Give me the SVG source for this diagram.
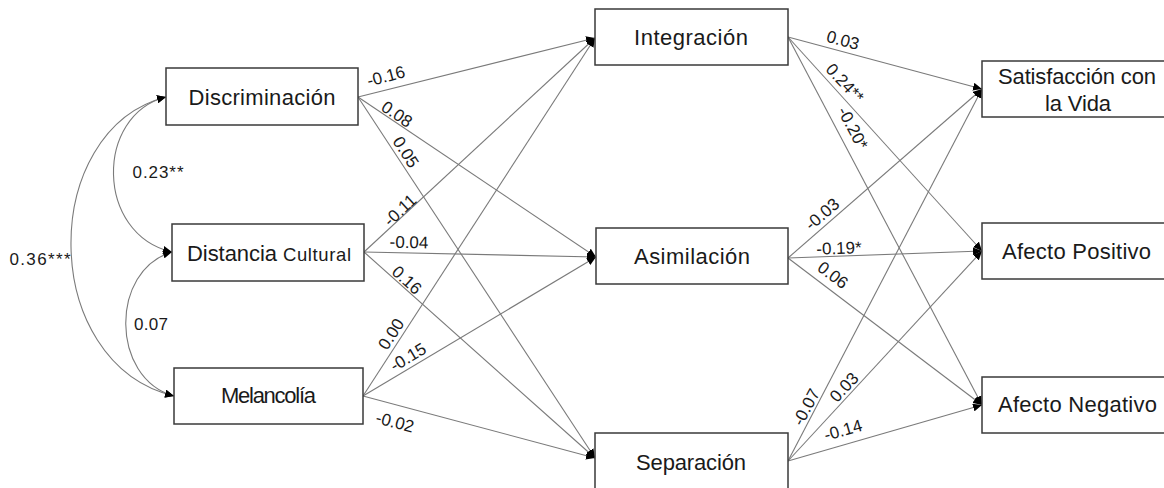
<svg xmlns="http://www.w3.org/2000/svg" width="1164" height="488" viewBox="0 0 1164 488">
<style>
.box{fill:#fff;stroke:#3a3a3a;stroke-width:1.5}
.t{font-family:"Liberation Sans",Arial,sans-serif;font-size:22px;fill:#1a1a1a;text-anchor:middle}
.c{fill:none;stroke:#7a7a7a;stroke-width:1.1}
.l{font-family:"Liberation Sans",Arial,sans-serif;font-size:17px;fill:#1a1a1a;text-anchor:middle}
</style>
<defs>
<marker id="ah" markerUnits="userSpaceOnUse" markerWidth="10" markerHeight="8" refX="9" refY="4" orient="auto-start-reverse">
<path d="M0,0 L9,4 L0,8 z" fill="#000"/>
</marker>
</defs>
<rect width="1164" height="488" fill="#fff"/>
<g id="connectors">
<path class="c" d="M166,97 C95,115 95,234 172,252" marker-start="url(#ah)" marker-end="url(#ah)"/>
<path class="c" d="M172,252 C110,270 110,378 174,396" marker-start="url(#ah)" marker-end="url(#ah)"/>
<path class="c" d="M166,97 C38,130 38,363 174,396" marker-start="url(#ah)" marker-end="url(#ah)"/>
<line class="c" x1="358" y1="97" x2="595" y2="38" marker-end="url(#ah)"/>
<line class="c" x1="358" y1="97" x2="596" y2="257" marker-end="url(#ah)"/>
<line class="c" x1="358" y1="97" x2="595" y2="458" marker-end="url(#ah)"/>
<line class="c" x1="364" y1="252" x2="595" y2="38" marker-end="url(#ah)"/>
<line class="c" x1="364" y1="252" x2="596" y2="257" marker-end="url(#ah)"/>
<line class="c" x1="364" y1="252" x2="595" y2="458" marker-end="url(#ah)"/>
<line class="c" x1="363" y1="396" x2="595" y2="38" marker-end="url(#ah)"/>
<line class="c" x1="363" y1="396" x2="596" y2="257" marker-end="url(#ah)"/>
<line class="c" x1="363" y1="396" x2="595" y2="458" marker-end="url(#ah)"/>
<line class="c" x1="788" y1="37" x2="982" y2="89" marker-end="url(#ah)"/>
<line class="c" x1="788" y1="37" x2="982" y2="251" marker-end="url(#ah)"/>
<line class="c" x1="788" y1="37" x2="982" y2="405" marker-end="url(#ah)"/>
<line class="c" x1="788" y1="258" x2="982" y2="89" marker-end="url(#ah)"/>
<line class="c" x1="788" y1="258" x2="982" y2="251" marker-end="url(#ah)"/>
<line class="c" x1="788" y1="258" x2="982" y2="405" marker-end="url(#ah)"/>
<line class="c" x1="788" y1="461" x2="982" y2="89" marker-end="url(#ah)"/>
<line class="c" x1="788" y1="461" x2="982" y2="251" marker-end="url(#ah)"/>
<line class="c" x1="788" y1="461" x2="982" y2="405" marker-end="url(#ah)"/>
</g>
<g id="labels">
<text class="l" x="158" y="178" textLength="51">0.23**</text>
<text class="l" x="151" y="330" textLength="34">0.07</text>
<text class="l" x="40" y="265" textLength="61">0.36***</text>
<text class="l" transform="translate(386,76) rotate(-15)" dy="0.35em">-0.16</text>
<text class="l" transform="translate(397,114) rotate(34)" dy="0.35em">0.08</text>
<text class="l" transform="translate(406,152) rotate(57)" dy="0.35em">0.05</text>
<text class="l" transform="translate(400,210) rotate(-43)" dy="0.35em">-0.11</text>
<text class="l" transform="translate(409,242) rotate(1)" dy="0.35em">-0.04</text>
<text class="l" transform="translate(407,280) rotate(42)" dy="0.35em">0.16</text>
<text class="l" transform="translate(391,334) rotate(-57)" dy="0.35em">0.00</text>
<text class="l" transform="translate(408,357) rotate(-31)" dy="0.35em">-0.15</text>
<text class="l" transform="translate(395,422) rotate(15)" dy="0.35em">-0.02</text>
<text class="l" transform="translate(843,40) rotate(15)" dy="0.35em">0.03</text>
<text class="l" transform="translate(845,83) rotate(47)" dy="0.35em">0.24**</text>
<text class="l" transform="translate(853,128) rotate(62)" dy="0.35em">-0.20*</text>
<text class="l" transform="translate(822,214) rotate(-41)" dy="0.35em">-0.03</text>
<text class="l" transform="translate(839,248) rotate(-2)" dy="0.35em">-0.19*</text>
<text class="l" transform="translate(833,275) rotate(37)" dy="0.35em">0.06</text>
<text class="l" transform="translate(806,407) rotate(-62)" dy="0.35em">-0.07</text>
<text class="l" transform="translate(844,387) rotate(-47)" dy="0.35em">0.03</text>
<text class="l" transform="translate(843,430) rotate(-16)" dy="0.35em">-0.14</text>
</g>
<g id="discriminacion">
<rect class="box" x="166" y="68" width="192" height="57"/>
<text class="t" x="262" y="105" textLength="147">Discriminación</text>
</g>
<g id="distancia">
<rect class="box" x="172" y="224" width="192" height="57"/>
<text class="t" x="187" y="261" style="text-anchor:start"><tspan textLength="90">Distancia</tspan><tspan x="283" font-size="18.5" textLength="68">Cultural</tspan></text>
</g>
<g id="melancolia">
<rect class="box" x="174" y="368" width="189" height="56"/>
<text class="t" x="268.5" y="403" font-size="19" textLength="95">Melancolía</text>
</g>
<g id="integracion">
<rect class="box" x="595" y="9" width="193" height="56"/>
<text class="t" x="691" y="45" textLength="114">Integración</text>
</g>
<g id="asimilacion">
<rect class="box" x="596" y="228" width="192" height="56"/>
<text class="t" x="692" y="264" textLength="116">Asimilación</text>
</g>
<g id="separacion">
<rect class="box" x="595" y="433" width="193" height="60"/>
<text class="t" x="691" y="470" textLength="110">Separación</text>
</g>
<g id="satisfaccion">
<rect class="box" x="982" y="61" width="200" height="56"/>
<text class="t" x="1077" y="84" textLength="158">Satisfacción con</text>
<text class="t" x="1078" y="111" textLength="66">la Vida</text>
</g>
<g id="afecto-positivo">
<rect class="box" x="982" y="223" width="200" height="56"/>
<text class="t" x="1076.5" y="259" textLength="149">Afecto Positivo</text>
</g>
<g id="afecto-negativo">
<rect class="box" x="982" y="377" width="200" height="56"/>
<text class="t" x="1077.5" y="412" textLength="159">Afecto Negativo</text>
</g>
</svg>
